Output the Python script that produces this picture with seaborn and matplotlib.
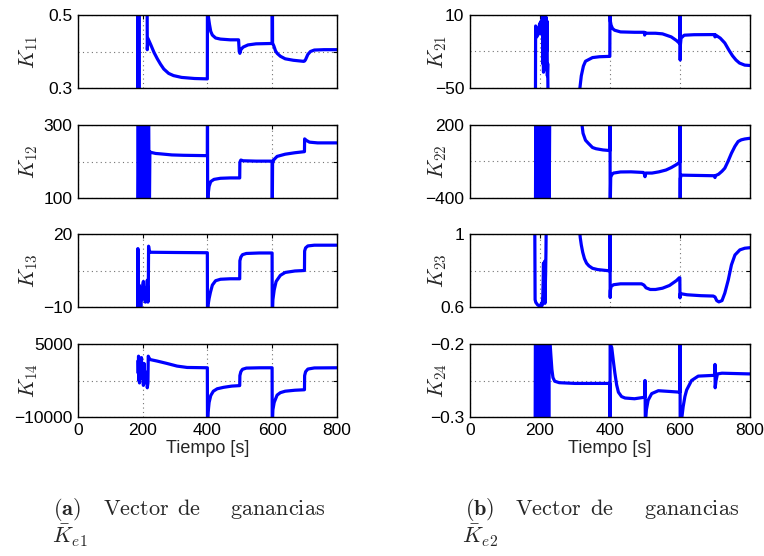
import matplotlib
matplotlib.use('Agg')
import matplotlib.pyplot as plt
import seaborn as sns

# ---------------------------------------------------------------
# datos (tiempo [s], ganancia)
# ---------------------------------------------------------------
t_k11 = [184, 185, 186, 187, 188, 189, 190, 213, 214, 216, 225, 235, 245, 255, 265, 280, 295, 320, 360, 399.5,
         400, 402, 406, 410, 415, 425, 440, 470, 496, 498, 500, 503, 510, 525, 550, 599.5,
         600, 601, 605, 610, 615, 625, 640, 665, 697, 700, 703, 710, 718, 730, 760, 800]
k11 = [0.0, 0.8, 0.0, 0.9, 0.1, 0.8, 0.7, 0.7, 0.405, 0.436, 0.418, 0.397, 0.380, 0.365, 0.352, 0.340, 0.334, 0.329, 0.326, 0.325,
       0.7, 0.50, 0.475, 0.455, 0.445, 0.437, 0.434, 0.432, 0.432, 0.40, 0.395, 0.405, 0.412, 0.418, 0.421, 0.422,
       0.7, 0.423, 0.415, 0.402, 0.395, 0.387, 0.380, 0.376, 0.373, 0.374, 0.378, 0.392, 0.400, 0.404, 0.405, 0.405]

t_k12 = [184, 186, 188, 190, 192, 194, 196, 198, 200, 202, 204, 206, 208, 210, 212, 214, 216, 218, 220,
         222, 225, 240, 254, 290, 326, 399.5,
         400, 400.5, 402, 405, 410, 420, 440, 470, 499.5, 500, 503, 510, 550, 599.5,
         600, 601, 605, 615, 640, 670, 699.5, 700, 705, 715, 740, 800]
k12 = [0, 400, 0, 400, 0, 400, 0, 400, 0, 400, 0, 400, 0, 400, 0, 400, 0, 400, 0,
       227, 225, 222, 221, 218, 217, 216,
       350, 50, 110, 132, 145, 151, 154, 155, 155, 198, 204, 202, 201, 201,
       50, 195, 205, 214, 220, 224, 227, 262, 258, 253, 251, 251]

t_k13 = [184.5, 185, 186, 187, 188, 189, 190, 192, 194, 196, 198, 200, 202, 204, 206, 208, 210, 212, 214, 216,
         217, 218, 220, 223, 300, 399.5,
         400, 402, 405, 409, 415, 425, 440, 470, 499.5, 500, 503, 508, 520, 560, 599.5,
         600, 602, 606, 612, 625, 640, 670, 699.5, 700, 703, 710, 730, 800]
k13 = [-12, 14, -12, -3, -11, -1, -8, -4, -12, -2, -7, -1, 0.5, -6, -3, -8, -2, -6, 1, -8,
       -7, 15, 13, 12.5, 12.4, 12.3,
       -15, -9, -6.5, -4, -1, 0.8, 1.4, 1.6, 1.6, 9, 10.5, 11.5, 12, 12.2, 12.2,
       -15, -7, -3, 0.5, 3, 4.2, 4.8, 5, 13, 14.3, 15.1, 15.4, 15.4]

t_k14 = [185, 186, 187, 188, 189, 190, 192, 194, 196, 198, 200, 202, 204, 206, 208, 210, 212, 214, 216,
         217, 219, 223, 244, 275, 306, 337, 399.5,
         400, 402, 405, 410, 418, 430, 450, 475, 499.5, 500, 503, 508, 520, 560, 599.5,
         600, 602, 606, 615, 625, 640, 670, 699.5, 700, 703, 710, 730, 800]
k14 = [1500, -1000, 2500, -2500, 2000, -3000, 1800, -1500, 2200, -2000, 500, -3500, 1000, -2500, -1500, -3000, -800, -4000, -3000,
       2500, 2200, 1800, 1500, 1000, 460, 180, 115,
       -12000, -9000, -7000, -5600, -4700, -4200, -3900, -3650, -3550, -1500, -700, -200, 50, 110, 115,
       -12000, -8500, -7000, -5500, -5000, -4700, -4500, -4400, -1500, -700, -150, 80, 115]

t_k21 = [187, 187.5, 189, 191, 193, 195, 197, 199, 201, 203, 205, 207, 208, 209, 210, 211, 212, 213, 214, 215,
         216, 217, 218, 219, 220, 221, 222, 223, 224, 310,
         314, 318, 324, 330, 338, 350, 370, 399.5, 400, 401, 403, 407, 413, 430, 470, 498, 499, 501, 503,
         530, 550, 575, 590, 599.5,
         600, 600.5, 601, 603, 612, 640, 690, 699.5, 700, 702, 715, 728, 740, 750, 760, 770, 785, 800]
k21 = [-60, 1, -2, -8, -3, -6, -1, 3, -2, 5, -6, 10, -30, 8, -37, 10, -25, 6, -35, -10,
       7, -30, 8, -20, 5, -40, -30, -60, -80, -80,
       -50, -40, -32, -28, -26.8, -25, -24.3, -24, 20, 5, 1.8, -1, -2.5, -3.9, -4.2, -4.2, -6.5, -4.5, -5,
       -5, -5.5, -8, -11, -13.5,
       20, -27, -15, -9, -6.6, -6.2, -6.1, -6.1, -8, -6.5, -9, -13, -19, -23.5, -27, -29.5, -31.2, -31.5]

t_k22 = [187, 188, 190, 192, 194, 196, 198, 200, 202, 204, 206, 208, 210, 212, 214, 216, 218, 220, 222, 224,
         226, 228, 318,
         320, 323, 330, 338, 350, 360, 380, 399.5, 400, 400.5, 402, 405, 410, 430, 460, 495, 498, 500, 502,
         520, 540, 560, 575, 590, 599.5,
         600, 600.5, 601, 603, 620, 660, 697, 700, 702, 710, 720, 728, 737, 747, 757, 766, 775, 785, 800]
k22 = [-600, 400, -600, 400, -600, 400, -600, 400, -600, 400, -600, 400, -600, 400, -600, 400, -600, 400, -600, 400,
       -600, 400, 400,
       200, 132, 75, 50, 15, 5, -5, -10, 400, -500, -230, -209, -195, -186, -185, -190, -200, -225, -195,
       -195, -185, -170, -150, -125, -105,
       400, -500, -240, -212, -213, -215, -217, -232, -215, -205, -180, -155, -100, -32, 25, 64, 78, 85, 91]

t_k23 = [185, 186, 188, 190, 193, 196, 199, 202, 204, 206, 208, 209, 210, 211, 212, 213, 214, 215, 216, 217,
         218, 220, 312,
         313, 315, 318, 322, 327, 333, 340, 350, 365, 399.5, 400, 400.5, 401, 403, 410, 430, 490, 497, 503,
         515, 530, 550, 570, 590, 598, 599.5,
         600, 601, 605, 620, 660, 695, 700, 705, 711, 720, 728, 738, 747, 757, 771, 785, 800]
k23 = [1.1, 0.64, 0.625, 0.62, 0.612, 0.608, 0.607, 0.61, 0.62, 0.608, 0.66, 0.74, 0.84, 0.63, 0.72, 0.85, 0.62, 0.70, 0.78, 0.9,
       1.1, 1.1, 1.1,
       1.02, 0.98, 0.94, 0.9, 0.865, 0.84, 0.825, 0.812, 0.805, 0.798, 1.1, 0.652, 0.69, 0.712, 0.722, 0.727, 0.727, 0.72, 0.705,
       0.696, 0.696, 0.703, 0.718, 0.745, 0.76, 0.76,
       0.65, 0.675, 0.672, 0.667, 0.662, 0.66, 0.655, 0.635, 0.628, 0.635, 0.676, 0.749, 0.831, 0.885, 0.913, 0.922, 0.925]

t_k24 = [186, 187, 189, 191, 193, 195, 197, 199, 201, 203, 205, 207, 209, 211, 213, 215, 217, 219, 221, 223,
         225, 227, 228, 229, 231, 234, 237, 242, 255, 300, 399.5,
         400, 400.5, 401, 405, 410, 414, 419, 424, 433, 443, 470, 498, 499.5, 500, 501, 504, 509, 519, 538, 570, 599.5,
         600, 600.5, 603, 609, 614, 619, 633, 652, 695, 699, 700, 700.5, 703, 707, 720, 800]
k24 = [-0.35, -0.15, -0.3, -0.18, -0.32, -0.2, -0.28, -0.15, -0.35, -0.15, -0.35, -0.15, -0.35, -0.15, -0.35, -0.15, -0.35, -0.15, -0.35, -0.15,
       -0.35, -0.15, -0.15, -0.2, -0.215, -0.235, -0.246, -0.251, -0.253, -0.254, -0.254,
       -0.35, -0.15, -0.2, -0.205, -0.225, -0.24, -0.256, -0.266, -0.272, -0.274, -0.275, -0.273, -0.273, -0.25, -0.31, -0.29, -0.277, -0.268, -0.264, -0.265, -0.266,
       -0.15, -0.32, -0.31, -0.286, -0.272, -0.263, -0.25, -0.244, -0.243, -0.243, -0.228, -0.26, -0.25, -0.241, -0.240, -0.241]

# limites y etiquetas de los ejes
xticks = [0, 200, 400, 600, 800]
lim_k11, lab_k11 = [0.3, 0.4, 0.5], ['0.3', '', '0.5']
lim_k12, lab_k12 = [100, 200, 300], ['100', '', '300']
lim_k13, lab_k13 = [-10, 5, 20], ['\u221210', '', '20']
lim_k14, lab_k14 = [-10000, -2500, 5000], ['\u221210000', '', '5000']
lim_k21, lab_k21 = [-50, -20, 10], ['\u221250', '', '10']
lim_k22, lab_k22 = [-400, -100, 200], ['\u2212400', '', '200']
lim_k23, lab_k23 = [0.6, 0.8, 1.0], ['0.6', '', '1']
lim_k24, lab_k24 = [-0.3, -0.25, -0.2], ['\u22120.3', '', '\u22120.2']

sns.set_style("white")
plt.rcParams['font.family'] = ['Liberation Sans', 'DejaVu Sans']
plt.rcParams['mathtext.fontset'] = 'cm'

fig = plt.figure(figsize=(7.64, 5.56), dpi=100)

W, H = 764.0, 556.0
col_x = [(78, 259), (470, 280)]          # left, width (px)
row_y = [(15, 88), (125, 198), (234, 307), (344, 417)]   # top, bottom (px)

paneles = [
    [(t_k11, k11, lim_k11, lab_k11, r'$K_{11}$'),
     (t_k12, k12, lim_k12, lab_k12, r'$K_{12}$'),
     (t_k13, k13, lim_k13, lab_k13, r'$K_{13}$'),
     (t_k14, k14, lim_k14, lab_k14, r'$K_{14}$')],
    [(t_k21, k21, lim_k21, lab_k21, r'$K_{21}$'),
     (t_k22, k22, lim_k22, lab_k22, r'$K_{22}$'),
     (t_k23, k23, lim_k23, lab_k23, r'$K_{23}$'),
     (t_k24, k24, lim_k24, lab_k24, r'$K_{24}$')],
]

for c in range(2):
    x0, w = col_x[c]
    for r in range(4):
        y_top, y_bot = row_y[r]
        t, v, lim, lab, nombre = paneles[c][r]
        ax = fig.add_axes([x0 / W, 1 - y_bot / H, w / W, (y_bot - y_top) / H])
        sns.lineplot(x=t, y=v, ax=ax, color=(0, 0, 1), linewidth=2.3,
                     estimator=None, sort=False)
        ax.set_xlim(0, 800)
        ax.set_ylim(lim[0], lim[-1])
        ax.set_xticks(xticks)
        ax.set_yticks(lim)
        ax.set_yticklabels(lab)
        ax.grid(True, linestyle=(0, (1, 3)), color='0.45', linewidth=0.8)
        ax.tick_params(direction='in', top=True, right=True, length=3,
                       labelsize=12.5, pad=4, colors='black')
        for s in ax.spines.values():
            s.set_color('black')
            s.set_linewidth(1.0)
        ax.set_ylabel(nombre, fontsize=15.5, labelpad=0)
        if c == 0:
            ax.yaxis.set_label_coords(-0.145, 0.5)
        else:
            ax.yaxis.set_label_coords(-0.075, 0.5)
        if r == 3:
            ax.set_xlabel('Tiempo [s]', fontsize=13, labelpad=2)
        else:
            ax.set_xticklabels([])

# leyendas de las subfiguras
cap = 16
fig.text(53 / W, 1 - 515 / H, r'$\mathbf{(a)}$', fontsize=cap, va='baseline')
fig.text(103 / W, 1 - 515 / H, r'$\mathrm{Vector}$', fontsize=cap, va='baseline')
fig.text(177 / W, 1 - 515 / H, r'$\mathrm{de}$', fontsize=cap, va='baseline')
fig.text(230 / W, 1 - 515 / H, r'$\mathrm{ganancias}$', fontsize=cap, va='baseline')
fig.text(52 / W, 1 - 543 / H, r'$\bar{K}_{e1}$', fontsize=cap, va='baseline')

fig.text(465 / W, 1 - 515 / H, r'$\mathbf{(b)}$', fontsize=cap, va='baseline')
fig.text(515 / W, 1 - 515 / H, r'$\mathrm{Vector}$', fontsize=cap, va='baseline')
fig.text(590 / W, 1 - 515 / H, r'$\mathrm{de}$', fontsize=cap, va='baseline')
fig.text(644 / W, 1 - 515 / H, r'$\mathrm{ganancias}$', fontsize=cap, va='baseline')
fig.text(462 / W, 1 - 543 / H, r'$\bar{K}_{e2}$', fontsize=cap, va='baseline')

fig.savefig('out.png', dpi=100)
